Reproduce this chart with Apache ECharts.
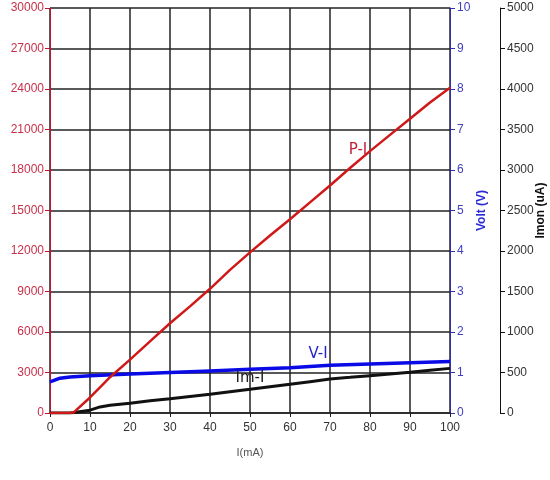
<!DOCTYPE html>
<html>
<head>
<meta charset="utf-8">
<script src="https://cdn.jsdelivr.net/npm/echarts@6/dist/echarts.min.js"></script>
<style>
  html, body { margin: 0; padding: 0; background: #fff; }
  #main { width: 550px; height: 480px; }
</style>
</head>
<body>
<div id="main"></div>
<script>
// 电流 I(mA)
var currents = [0, 5, 6, 10, 12.5, 15, 20, 25, 30, 35, 40, 45, 50, 55, 60, 65, 70, 75, 80, 85, 90, 95, 100];
// P-I 功率
var powerVals = [0, 0, 60, 1150, 1900, 2650, 3950, 5300, 6650, 7900, 9200, 10600, 11900, 13150, 14350, 15600, 16850, 18150, 19400, 20600, 21800, 23000, 24100];
// Imon-I 监控电流
var imonVals = [0, 0, 5, 35, 75, 95, 120, 150, 175, 205, 231, 262, 292, 323, 354, 387, 420, 440, 461, 482, 502, 527, 551];
// V-I 电压
var voltI = [0, 2.5, 5, 10, 20, 30, 40, 50, 60, 70, 80, 90, 100];
var voltVals = [0.77, 0.86, 0.89, 0.92, 0.96, 1.0, 1.04, 1.08, 1.12, 1.18, 1.21, 1.24, 1.27];

var xTicks = [0, 100, 10];
var powerTicks = [0, 30000, 3000];
var voltTicks = [0, 10, 1];
var imonTicks = [0, 5000, 500];

function pairs(xs, ys) {
    return xs.map(function (x, i) { return [x, ys[i]]; });
}

function plain(v) { return String(v); }

var myChart = echarts.init(document.getElementById('main'));

var font = 'Liberation Sans, Arial, sans-serif';

var option = {
    animation: false,
    grid: { left: 50, right: 100, top: 8, bottom: 67, containLabel: false, outerBoundsMode: 'none' },
    xAxis: {
        type: 'value',
        min: xTicks[0], max: xTicks[1], interval: xTicks[2],
        name: 'I(mA)',
        nameLocation: 'middle',
        nameGap: 34,
        nameMoveOverlap: false,
        nameTextStyle: { color: '#555', fontSize: 11, fontFamily: font },
        axisLine: { show: true, lineStyle: { color: '#222', width: 1.5 } },
        axisTick: { show: true, length: 4, lineStyle: { color: '#222' } },
        axisLabel: { color: '#333', fontSize: 12, fontFamily: font, margin: 9, formatter: plain },
        splitLine: { show: true, lineStyle: { color: '#222', width: 1.5 } }
    },
    yAxis: [{
        type: 'value',
        position: 'left',
        min: powerTicks[0], max: powerTicks[1], interval: powerTicks[2],
        axisLine: { show: true, lineStyle: { color: '#c8102e', width: 1 } },
        axisTick: { show: true, length: 5, lineStyle: { color: '#c8102e' } },
        axisLabel: { color: '#c8304a', fontSize: 12, fontFamily: font, margin: 6, formatter: plain },
        splitLine: { show: true, lineStyle: { color: '#222', width: 1.5 } }
    }, {
        type: 'value',
        position: 'right',
        min: voltTicks[0], max: voltTicks[1], interval: voltTicks[2],
        name: 'Volt (V)',
        nameLocation: 'middle',
        nameGap: 26,
        nameMoveOverlap: false,
        nameTextStyle: { color: '#2b2bd6', fontSize: 12, fontWeight: 'bold', fontFamily: font },
        axisLine: { show: true, lineStyle: { color: '#3030b0', width: 1 } },
        axisTick: { show: true, length: 5, lineStyle: { color: '#3030b0' } },
        axisLabel: { color: '#4040c0', fontSize: 12, fontFamily: font, margin: 7, formatter: plain },
        splitLine: { show: false }
    }, {
        type: 'value',
        position: 'right',
        offset: 50,
        min: imonTicks[0], max: imonTicks[1], interval: imonTicks[2],
        name: 'Imon (uA)',
        nameLocation: 'middle',
        nameGap: 35,
        nameMoveOverlap: false,
        nameTextStyle: { color: '#111', fontSize: 12, fontWeight: 'bold', fontFamily: font },
        axisLine: { show: true, lineStyle: { color: '#111', width: 1 } },
        axisTick: { show: true, length: 5, lineStyle: { color: '#111' } },
        axisLabel: { color: '#333', fontSize: 12, fontFamily: font, margin: 7, formatter: plain },
        splitLine: { show: false }
    }],
    series: [{
        name: 'Im-I',
        type: 'line',
        yAxisIndex: 2,
        data: pairs(currents, imonVals),
        showSymbol: false,
        lineStyle: { color: '#111', width: 3 },
        markPoint: {
            symbol: 'circle', symbolSize: 0,
            label: { show: true, formatter: 'Im-I', color: '#222', fontSize: 15, fontFamily: 'DejaVu Sans, sans-serif' },
            data: [{ coord: [50, 430] }]
        },
        z: 3
    }, {
        name: 'V-I',
        type: 'line',
        yAxisIndex: 1,
        data: pairs(voltI, voltVals),
        showSymbol: false,
        lineStyle: { color: '#0a0ae6', width: 3.5 },
        markPoint: {
            symbol: 'circle', symbolSize: 0,
            label: { show: true, formatter: 'V-I', color: '#2424d0', fontSize: 15, fontFamily: 'DejaVu Sans, sans-serif' },
            data: [{ coord: [67, 1.45] }]
        },
        z: 4
    }, {
        name: 'P-I',
        type: 'line',
        yAxisIndex: 0,
        data: pairs(currents, powerVals),
        showSymbol: false,
        lineStyle: { color: '#d01818', width: 2.5 },
        markPoint: {
            symbol: 'circle', symbolSize: 0,
            label: { show: true, formatter: 'P-I', color: '#c0203a', fontSize: 15, fontFamily: 'DejaVu Sans, sans-serif' },
            data: [{ coord: [77, 19500] }]
        },
        z: 5
    }]
};

myChart.setOption(option);
</script>
</body>
</html>
